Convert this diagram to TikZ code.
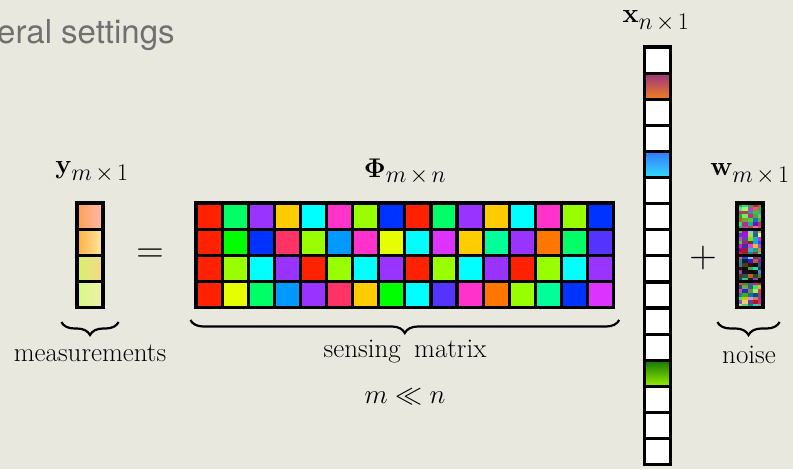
\RequirePackage{fix-cm}
\documentclass[tikz,border=0pt]{standalone}
\usepackage{amsmath}
\usepackage[no-math]{fontspec}
\usepackage{xcolor}
\usepackage{tikz}
\usetikzlibrary{positioning, calc, decorations.pathreplacing}
\newfontfamily\hdrfont{TeX Gyre Heros}
\DeclareMathSizes{27}{27}{24}{19}
\newcommand{\tms}{\mskip2.5mu\times\mskip2.5mu}
\definecolor{paper}{RGB}{233,232,223}
\definecolor{hdrgray}{RGB}{112,112,112}
\definecolor{cred}{RGB}{255,34,0}
\definecolor{cgreen}{RGB}{0,255,102}
\definecolor{cpurple}{RGB}{153,51,255}
\definecolor{cgold}{RGB}{255,204,0}
\definecolor{ccyan}{RGB}{0,255,255}
\definecolor{cpink}{RGB}{255,51,204}
\definecolor{clime}{RGB}{153,255,0}
\definecolor{cblue}{RGB}{0,51,255}
\definecolor{cgrn}{RGB}{0,255,0}
\definecolor{crose}{RGB}{255,51,102}
\definecolor{csky}{RGB}{0,153,255}
\definecolor{cyel}{RGB}{230,255,0}
\definecolor{cmag}{RGB}{221,51,255}
\definecolor{csea}{RGB}{0,255,153}
\definecolor{corange}{RGB}{255,119,0}
\definecolor{cindigo}{RGB}{85,51,255}
% measurement vector shades (left / right)
\definecolor{ya}{RGB}{255,160,80}
\definecolor{yb}{RGB}{255,184,176}
\definecolor{yc}{RGB}{255,176,64}
\definecolor{yd}{RGB}{255,232,168}
\definecolor{ye}{RGB}{214,240,112}
\definecolor{yf}{RGB}{245,216,136}
\definecolor{yg}{RGB}{214,248,136}
\definecolor{yh}{RGB}{240,240,168}
% sparse vector shades (top / bottom)
\definecolor{xa}{RGB}{153,51,128}
\definecolor{xb}{RGB}{240,128,32}
\definecolor{xc}{RGB}{51,119,255}
\definecolor{xd}{RGB}{51,221,255}
\definecolor{xe}{RGB}{17,119,0}
\definecolor{xf}{RGB}{153,238,0}
\tikzset{
  cell/.style={rectangle, draw=black, line width=3.2pt,
    minimum size=26.1pt, inner sep=0pt},
  % #1 base hue, #2 hue spread, #3 lowest brightness
  noisecell/.style n args={3}{cell, path picture={
      \foreach \a in {0,...,4}{
        \foreach \b in {0,...,6}{
          \pgfmathsetmacro{\nh}{mod(#1+#2*(rnd-0.5)+1,1)}
          \pgfmathsetmacro{\ns}{0.5+0.5*rnd}
          \pgfmathsetmacro{\nb}{#3+(1-#3)*rnd}
          \definecolor{nz}{hsb}{\nh,\ns,\nb}
          \fill[nz] ([shift={(\a*5.3pt,-\b*3.8pt)}]path picture bounding box.north west)
            rectangle +(5.3pt,-3.8pt);
        }}}},
  lbl/.style={font=\fontsize{27}{32}\selectfont, inner sep=0pt},
  oplbl/.style={font=\fontsize{38}{44}\selectfont, inner sep=0pt},
  brc/.style={decorate, decoration={brace, mirror, amplitude=13pt}, line width=2.2pt}
}
\pgfmathsetseed{11}

\begin{document}
\begin{tikzpicture}[x=1pt, y=-1pt]
  \useasboundingbox (0,0) rectangle (793,469);
  \fill[paper] (0,0) rectangle (793,469);

  % title, cut at the left edge
  \node[font=\hdrfont\fontsize{33}{38}\selectfont, text=hdrgray,
    anchor=base west, inner sep=0pt] (hdr) at (-3,43) {eral settings};

  % measurements y
  \foreach \lc/\rc [count=\k] in {ya/yb, yc/yd, ye/yf, yg/yh}
    \node[cell, left color=\lc, right color=\rc] (y-\k) at (90, {203+13.05+(\k-1)*26.1}) {};
  \node[lbl] (ylbl) at (92,172) {$\mathbf{y}_{m\tms 1}$};
  \node[oplbl] (eq) at (150,256) {$=$};

  % sensing matrix Phi
  \foreach \rowcols [count=\r] in {
    {cred,cgreen,cpurple,cgold,ccyan,cpink,clime,cblue,cred,cgreen,cpurple,cgold,ccyan,cpink,clime,cblue},
    {cred,cgrn,cblue,crose,clime,csky,cpink,cyel,ccyan,cmag,cgold,csea,cpurple,corange,cgreen,cindigo},
    {cred,clime,ccyan,cpurple,cred,clime,ccyan,cpurple,cred,clime,ccyan,cpurple,cred,clime,ccyan,cpurple},
    {cred,cyel,cgreen,csky,cpurple,crose,cgold,cgrn,ccyan,cindigo,cpink,corange,clime,csea,cblue,cmag}}{
    \foreach \col [count=\c] in \rowcols
      \node[cell, fill=\col] (phi-\r-\c) at ({196+13.05+(\c-1)*26.1}, {203+13.05+(\r-1)*26.1}) {};
  }
  \node[lbl] (philbl) at (405,172) {$\mathbf{\Phi}_{m\tms n}$};

  % sparse signal x
  \foreach \tc/\bc [count=\k] in {white/white, xa/xb, white/white, white/white, xc/xd,
      white/white, white/white, white/white, white/white, white/white, white/white,
      white/white, xe/xf, white/white, white/white, white/white}
    \node[cell, top color=\tc, bottom color=\bc] (x-\k) at (657.5, {47+13.05+(\k-1)*26.1}) {};
  \node[lbl] (xlbl) at (656,21) {$\mathbf{x}_{n\tms 1}$};
  \node[oplbl] (plus) at (703,258) {$+$};

  % noise w
  \node[noisecell={0.22}{0.9}{0.6}] (w-1) at (750, {203+13.05}) {};
  \node[noisecell={0.3}{1}{0.5}]    (w-2) at (750, {203+13.05+26.1}) {};
  \node[noisecell={0.55}{1}{0.05}]  (w-3) at (750, {203+13.05+2*26.1}) {};
  \node[noisecell={0.1}{1}{0.5}]    (w-4) at (750, {203+13.05+3*26.1}) {};
  \node[lbl] (wlbl) at (750,174) {$\mathbf{w}_{m\tms 1}$};

  % braces and captions
  \draw[brc] ($(y-4.south west)+(-14,13)$) -- ($(y-4.south east)+(14,13)$);
  \draw[brc] ($(phi-4-1.south west)+(-4,11)$) -- ($(phi-4-16.south east)+(4,11)$);
  \draw[brc] ($(w-4.south west)+(-18,13)$) -- ($(w-4.south east)+(15,13)$);
  \node[lbl] (meas) at (90,353) {measurements};
  \node[lbl] (sens) at (405,352) {sensing\enspace matrix};
  \node[lbl] (noise) at (749,355) {noise};
  \node[lbl] (mn) at (405,397) {$m \ll n$};
\end{tikzpicture}
\end{document}
